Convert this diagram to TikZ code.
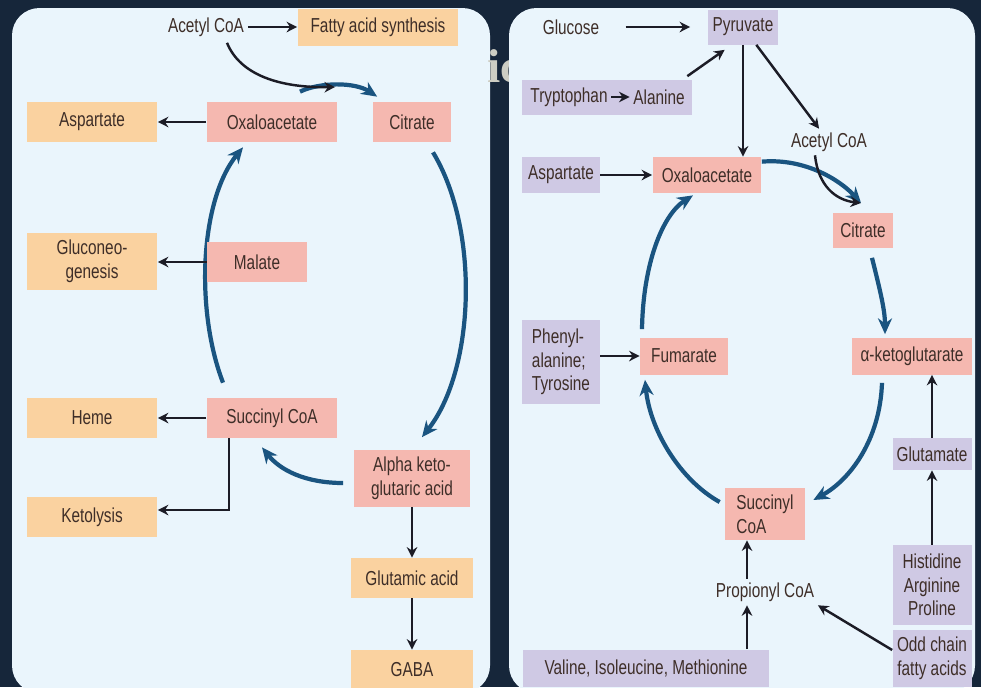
\documentclass[tikz,border=0pt]{standalone}
\usepackage{fontspec}
\setmainfont{Liberation Sans}[FakeStretch=0.76]
\newfontfamily\titlefont{Liberation Serif}
\usepackage{tikz}
\usetikzlibrary{arrows.meta}

\definecolor{slidebg}{RGB}{22,38,58}
\definecolor{panelfill}{RGB}{234,245,252}
\definecolor{orangefill}{RGB}{250,210,160}
\definecolor{pinkfill}{RGB}{245,184,176}
\definecolor{lilacfill}{RGB}{207,201,228}
\definecolor{boxtext}{RGB}{62,46,40}
\definecolor{cycleblue}{RGB}{26,84,128}
\definecolor{arrowblack}{RGB}{28,28,38}
\definecolor{titlegray}{RGB}{205,205,195}

\begin{document}
\begin{tikzpicture}[x=0.02cm, y=-0.02cm,
    box/.style={rectangle, inner sep=2pt, minimum height=0.8cm, text=boxtext,
      font=\fontsize{11.5}{13.5}\selectfont, align=center},
    txt/.style={box, minimum height=0pt},
    orangebox/.style={box, fill=orangefill, minimum width=2.62cm},
    pinkbox/.style={box, fill=pinkfill},
    lilacbox/.style={box, fill=lilacfill},
    blk/.style={line width=1.4pt, draw=arrowblack, -{Stealth[length=6pt,width=6pt]}},
    cyc/.style={line width=2.4pt, draw=cycleblue, -{Stealth[length=9pt,width=8pt]}}]
  \useasboundingbox (0,0) rectangle (981,687);
  \fill[slidebg] (0,0) rectangle (981,687);

  % left panel
  \fill[panelfill, rounded corners=0.55cm] (12,8) rectangle (490,693);
  \node[anchor=base west, inner sep=0pt, text=titlegray, font=\titlefont\bfseries\fontsize{27}{27}\selectfont] (bgtitle) at (487,82) {ic};

  \node[txt] (lacetyl) at (206,27) {Acetyl CoA};
  \node[orangebox, minimum width=3.22cm, minimum height=0.74cm] (lfatty) at (378,27) {Fatty acid synthesis};
  \node[orangebox] (lasp) at (92,122) {Aspartate};
  \node[pinkbox, minimum width=2.62cm] (loxalo) at (272,122) {Oxaloacetate};
  \node[pinkbox, minimum width=1.58cm] (lcitrate) at (412,122) {Citrate};
  \node[orangebox, minimum height=1.14cm] (lgluco) at (92,261) {Gluconeo-\\genesis};
  \node[orangebox] (lheme) at (92,418) {Heme};
  \node[pinkbox, minimum width=2.62cm] (lsucc) at (272,418) {Succinyl CoA};
  \node[orangebox] (lketo) at (92,517) {Ketolysis};
  \node[pinkbox, minimum width=2.34cm, minimum height=1.14cm] (lalpha) at (412,478) {Alpha keto-\\glutaric acid};
  \node[orangebox, minimum width=2.46cm] (lglutamic) at (412,578) {Glutamic acid};
  \node[orangebox, minimum width=2.46cm] (lgaba) at (412,670) {GABA};

  \draw[cyc] ([xshift=0.56cm,yshift=0.2cm]loxalo.north) .. controls (320,82) and (355,82) .. ([xshift=0.1cm,yshift=0.1cm]lcitrate.north west);
  \coordinate (ljoin) at (335,87);
  \draw[blk] ([xshift=0.42cm,yshift=-0.05cm]lacetyl.south) .. controls (240,75) and (280,88) .. (ljoin);
  \draw[cyc] ([xshift=0.42cm,yshift=-0.2cm]lcitrate.south) .. controls (480,230) and (475,370) .. ([xshift=0.2cm,yshift=0.24cm]lalpha.north);
  \draw[cyc] ([xshift=-0.2cm,yshift=-0.1cm]lalpha.west) .. controls (305,483) and (280,470) .. ([xshift=-0.2cm,yshift=-0.18cm]lsucc.south);
  \draw[cyc] ([xshift=-0.98cm,yshift=0.3cm]lsucc.north) .. controls (195,310) and (200,200) .. ([xshift=-0.58cm,yshift=-0.1cm]loxalo.south);
  \node[pinkbox, minimum width=2cm] (lmalate) at (257,262) {Malate};

  \draw[blk] (lacetyl) -- (lfatty);
  \draw[blk] (loxalo) -- (lasp);
  \draw[blk] (lmalate.west) -- (lmalate.west -| lgluco.east);
  \draw[blk] (lsucc) -- (lheme);
  \draw[blk] ([xshift=-0.86cm]lsucc.south) |- ([yshift=0.14cm]lketo.east);
  \draw[blk] (lalpha) -- (lglutamic);
  \draw[blk] (lglutamic) -- (lgaba);

  % right panel
  \fill[panelfill, rounded corners=0.55cm] (509,8) rectangle (975,693);

  \node[txt] (rglucose) at (571,27) {Glucose};
  \node[lilacbox, minimum width=1.4cm, minimum height=0.7cm] (rpyruvate) at (743,27) {Pyruvate};
  \node[lilacbox, minimum width=3.4cm, minimum height=0.7cm] (ralabox) at (607,97) {};
  \node[txt] (rtryp) at (569,97) {Tryptophan};
  \node[txt] (ralan) at (659,97) {Alanine};
  \node[txt] (racetyl) at (829,142) {Acetyl CoA};
  \node[lilacbox, minimum width=1.56cm, minimum height=0.72cm] (rasp) at (561,175) {Aspartate};
  \node[pinkbox, minimum width=2.18cm, minimum height=0.72cm] (roxalo) at (707,175) {Oxaloacetate};
  \node[pinkbox, minimum width=1.2cm, minimum height=0.7cm] (rcitrate) at (863,230) {Citrate};
  \node[lilacbox, minimum width=1.56cm, minimum height=1.7cm, align=left] (rphenyl) at (561,362) {Phenyl-\\alanine;\\Tyrosine};
  \node[pinkbox, minimum width=1.76cm, minimum height=0.74cm] (rfum) at (684,356) {Fumarate};
  \node[pinkbox, minimum width=2.4cm, minimum height=0.74cm] (rket) at (912,356) {α-ketoglutarate};
  \node[pinkbox, minimum width=1.6cm, minimum height=1.04cm, align=left] (rsucc) at (765,514) {Succinyl\\CoA};
  \node[lilacbox, minimum width=1.58cm, minimum height=0.64cm] (rglutamate) at (932,454) {Glutamate};
  \node[lilacbox, minimum width=1.58cm, minimum height=1.6cm] (rhist) at (932,585) {Histidine\\Arginine\\Proline};
  \node[lilacbox, minimum width=1.58cm, minimum height=1.14cm] (rodd) at (932,658) {Odd chain\\fatty acids};
  \node[txt] (rprop) at (765,592) {Propionyl CoA};
  \node[lilacbox, minimum width=4.94cm, minimum height=0.74cm] (rvaline) at (646,668) {Valine, Isoleucine, Methionine};

  \draw[blk, shorten <=0.45cm, shorten >=0.35cm] (rglucose) -- (rpyruvate);
  \draw[blk, line width=1pt] (rtryp) -- (ralan);
  \draw[blk] ([xshift=-0.1cm,yshift=0.06cm]ralabox.north east) -- ([xshift=0.34cm,yshift=-0.1cm]rpyruvate.south west);
  \draw[blk] (rpyruvate.south) -- (rpyruvate.south |- roxalo.north);
  \draw[blk] (rpyruvate) -- (racetyl);
  \draw[blk] (rasp) -- (roxalo);
  \coordinate (rjoin) at (861,203);
  \draw[cyc] ([yshift=-0.1cm]roxalo.north east) .. controls (805,158) and (840,180) .. (rjoin);
  \draw[blk] ([xshift=-0.28cm]racetyl.south) .. controls (818,185) and (835,200) .. (rjoin);
  \draw[cyc] ([xshift=0.18cm,yshift=-0.2cm]rcitrate.south) .. controls (880,290) and (885,310) .. ([xshift=-0.54cm,yshift=0.06cm]rket.north);
  \draw[cyc] ([xshift=-0.6cm,yshift=-0.16cm]rket.south) .. controls (880,440) and (850,480) .. ([xshift=0.16cm,yshift=0.28cm]rsucc.east);
  \draw[cyc] ([xshift=-0.1cm,yshift=0.24cm]rsucc.west) .. controls (680,480) and (650,430) .. ([xshift=-0.78cm,yshift=-0.1cm]rfum.south);
  \draw[cyc] ([xshift=-0.84cm,yshift=0.16cm]rfum.north) .. controls (643,265) and (662,215) .. ([xshift=-0.28cm,yshift=-0.04cm]roxalo.south);
  \draw[blk] (rphenyl.east |- rfum) -- (rfum);
  \draw[blk] (rglutamate.north) -- (rglutamate.north |- rket.south);
  \draw[blk] (rhist) -- (rglutamate);
  \coordinate (rpropx) at ([xshift=-0.36cm]rprop.center);
  \draw[blk] (rpropx |- rprop.north) -- (rpropx |- rsucc.south);
  \draw[blk] (rpropx |- rvaline.north) -- (rpropx |- rprop.south);
  \draw[blk] ([yshift=0.16cm]rodd.west) -- (rprop.south east);
\end{tikzpicture}
\end{document}
